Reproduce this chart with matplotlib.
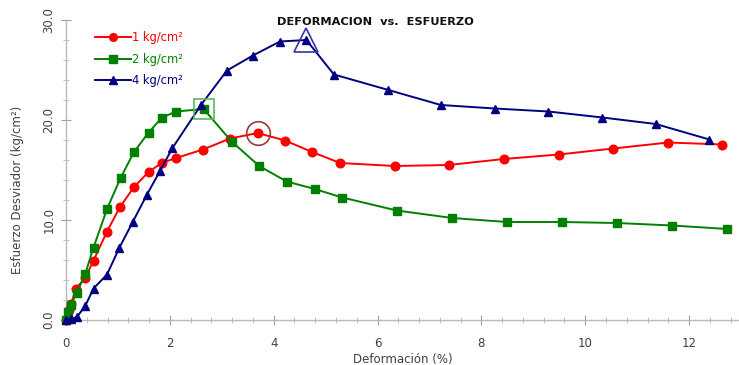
import matplotlib
matplotlib.use("Agg")
import matplotlib.pyplot as plt
from matplotlib.ticker import MultipleLocator, FormatStrFormatter

# Deformation (%) and deviator stress (kg/cm²) for each confining pressure
def_1 = [0, 0.05, 0.10, 0.19, 0.37, 0.53, 0.79, 1.04, 1.31, 1.59, 1.84, 2.12, 2.64,
         3.16, 3.69, 4.22, 4.74, 5.28, 6.33, 7.37, 8.43, 9.49, 10.54, 11.60, 12.64]
esf_1 = [0, 1.0, 1.6, 3.15, 4.2, 5.95, 8.85, 11.3, 13.3, 14.8, 15.7, 16.2, 17.05,
         18.15, 18.7, 17.95, 16.8, 15.7, 15.4, 15.5, 16.1, 16.55, 17.15, 17.75, 17.55]

def_2 = [0, 0.03, 0.10, 0.21, 0.37, 0.53, 0.79, 1.05, 1.31, 1.59, 1.85, 2.12, 2.65,
         3.19, 3.72, 4.25, 4.79, 5.32, 6.37, 7.44, 8.49, 9.55, 10.61, 11.67, 12.74]
esf_2 = [0, 0.85, 1.55, 2.75, 4.6, 7.25, 11.1, 14.2, 16.8, 18.75, 20.25, 20.85, 21.1,
         17.85, 15.4, 13.85, 13.1, 12.25, 10.95, 10.2, 9.8, 9.8, 9.7, 9.45, 9.1]

def_4 = [0, 0.10, 0.21, 0.37, 0.53, 0.79, 1.03, 1.29, 1.56, 1.81, 2.05, 2.60, 3.10,
         3.60, 4.12, 4.63, 5.16, 6.21, 7.22, 8.26, 9.29, 10.33, 11.36, 12.39]
esf_4 = [0, 0.1, 0.3, 1.4, 3.15, 4.55, 7.25, 9.85, 12.55, 14.9, 17.2, 21.5, 24.95,
         26.45, 27.85, 28.0, 24.55, 23.0, 21.5, 21.15, 20.85, 20.25, 19.6, 18.05]

labels = ["1 kg/cm²", "2 kg/cm²", "4 kg/cm²"]
colors = ["#ff0000", "#008000", "#000080"]
markers = ["o", "s", "^"]
peak_colors = ["#a03838", "#5cb85c", "#3434a8"]

plt.rcParams["font.family"] = ["DejaVu Sans"]

fig = plt.figure(figsize=(7.39, 3.65), dpi=100)
ax = fig.add_axes([66 / 739, 45 / 365, 673 / 739, 300 / 365])

series = [(def_1, esf_1), (def_2, esf_2), (def_4, esf_4)]
for (xs, ys), lab, c, m, pc in zip(series, labels, colors, markers, peak_colors):
    ax.plot(xs, ys, color=c, lw=1.4, marker=m, ms=6.2, mfc=c, mec=c,
            label=lab, clip_on=False, zorder=3)
    # highlight the peak stress
    i = max(range(len(ys)), key=lambda k: ys[k])
    big = {"o": 17, "s": 15, "^": 17}[m]
    ax.plot([xs[i]], [ys[i]], marker=m, ms=big, mfc="none", mec=pc,
            mew=1.2, ls="none", zorder=4)

ax.set_xlim(0, 674 / 52)
ax.set_ylim(0, 30)

ax.xaxis.set_major_locator(MultipleLocator(2))
ax.xaxis.set_minor_locator(MultipleLocator(0.4))
ax.yaxis.set_major_locator(MultipleLocator(10))
ax.yaxis.set_minor_locator(MultipleLocator(2))
ax.yaxis.set_major_formatter(FormatStrFormatter("%.1f"))

for side in ("top", "right"):
    ax.spines[side].set_visible(False)
for side in ("left", "bottom"):
    ax.spines[side].set_color("#b8b8b8")
    ax.spines[side].set_linewidth(1.0)

ax.tick_params(which="major", direction="inout", length=7, color="#a0a0a0",
               labelsize=8.5, labelcolor="#404040")
ax.tick_params(which="minor", direction="inout", length=4, color="#b8b8b8")
ax.tick_params(axis="x", pad=9)
ax.tick_params(axis="y", pad=4)
for lbl in ax.get_yticklabels():
    lbl.set_rotation(90)
    lbl.set_va("center")

ax.set_xlabel("Deformación (%)", fontsize=8.5, color="#404040", labelpad=2)
ax.set_ylabel("Esfuerzo Desviador (kg/cm²)", fontsize=8.5, color="#404040")
ax.yaxis.set_label_coords(-0.062, 0.433)

fig.text(375 / 739, 1 - 22 / 365, "DEFORMACION  vs.  ESFUERZO", ha="center",
         va="center", fontsize=8.2, fontweight="bold", color="#111111")

ax.legend(loc="upper left", bbox_to_anchor=(0.043, 0.962), frameon=False,
          fontsize=8.3, labelcolor="linecolor", handlelength=3.1,
          handletextpad=0.1, labelspacing=0.72, markerscale=0.9,
          borderpad=0, borderaxespad=0)

fig.savefig("out.png", dpi=100)
